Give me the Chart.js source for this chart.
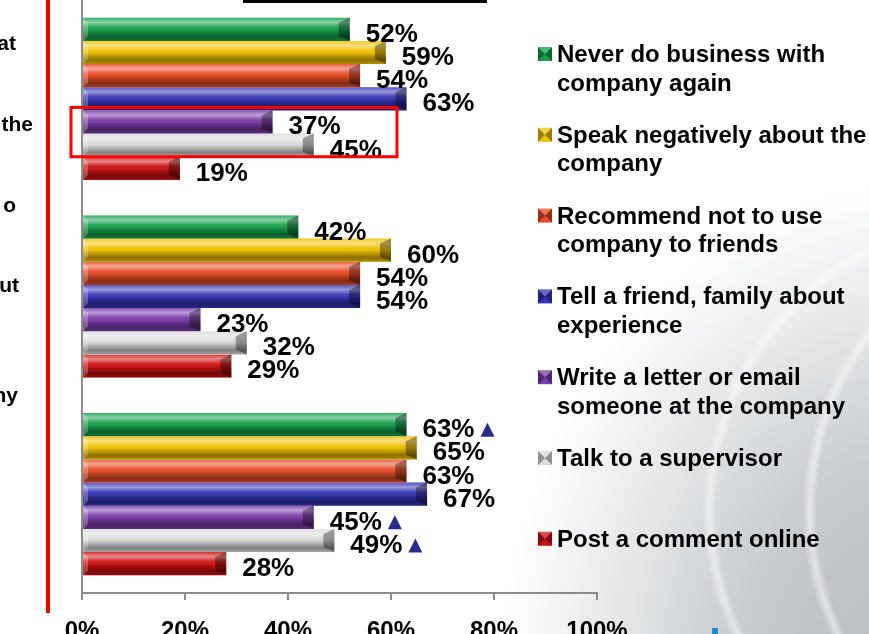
<!DOCTYPE html>
<html>
<head>
<meta charset="utf-8">
<script src="https://cdn.jsdelivr.net/npm/chart.js@4.4.1/dist/chart.umd.min.js"></script>
<style>
  html, body { margin: 0; padding: 0; }
  body {
    width: 869px; height: 634px; overflow: hidden; position: relative;
    background:
      radial-gradient(circle at 1000px 510px, rgba(255,255,255,0) 283px, rgba(255,255,255,0.5) 290px, rgba(255,255,255,0) 298px),
      radial-gradient(circle at 1100px 510px, rgba(255,255,255,0) 283px, rgba(255,255,255,0.5) 290px, rgba(255,255,255,0) 298px),
      radial-gradient(ellipse 420px 500px at 920px 680px, #b4b8bd 0%, #c9cdd0 45%, rgba(255,255,255,0) 100%),
      #ffffff;
  }
  canvas { position: absolute; left: 0; top: 0; }
  .titlebar { position: absolute; left: 243px; top: 0; width: 244px; height: 3px; background: #000; }
  .logo { position: absolute; left: 712px; top: 628px; width: 6px; height: 6px; background: #1a8ad4; }
</style>
</head>
<body>
<div class="titlebar"></div>
<div class="logo"></div>
<canvas id="chart" width="869" height="634"></canvas>
<script>
// datos: tres grupos, siete reacciones
var groups = ['Grupo 1', 'Grupo 2', 'Grupo 3'];
var seriesNames = [
  ['Never do business with', 'company again'],
  ['Speak negatively about the', 'company'],
  ['Recommend not to use', 'company to friends'],
  ['Tell a friend, family about', 'experience'],
  ['Write a letter or email', 'someone at the company'],
  ['Talk to a supervisor'],
  ['Post a comment online']
];
var neverAgain     = [52, 42, 63];
var speakNegative  = [59, 60, 65];
var recommendNot   = [54, 54, 63];
var tellFriend     = [63, 54, 67];
var writeLetter    = [37, 23, 45];
var talkSupervisor = [45, 32, 49];
var postOnline     = [19, 29, 28];
var seriesValues = [neverAgain, speakNegative, recommendNot, tellFriend, writeLetter, talkSupervisor, postOnline];
// [serie, grupo] con triángulo azul al lado
var flagged = [[0, 2], [4, 2], [5, 2]];
var xTicks = [0, 20, 40, 60, 80, 100];
var sideText = ['at', 'the', 'o', 'ut', 'ny'];
var colors = ['#15a04b', '#f0c000', '#e64a24', '#3434b4', '#7a3ba8', '#dadada', '#cc1111'];

var FONT = 'Arial, "Liberation Sans", sans-serif';

function shadeBar(ctx, l, r, top, bot) {
  var g = ctx.createLinearGradient(0, top, 0, bot);
  g.addColorStop(0, 'rgba(255,255,255,0.15)');
  g.addColorStop(0.2, 'rgba(255,255,255,0.5)');
  g.addColorStop(0.42, 'rgba(255,255,255,0.05)');
  g.addColorStop(0.6, 'rgba(0,0,0,0.15)');
  g.addColorStop(0.82, 'rgba(0,0,0,0.42)');
  g.addColorStop(1, 'rgba(0,0,0,0.25)');
  ctx.fillStyle = g;
  ctx.fillRect(l, top, r - l, bot - top);
  var b = Math.min(11, (r - l) / 3);
  ctx.fillStyle = 'rgba(0,0,0,0.35)';
  ctx.beginPath();
  ctx.moveTo(r - b, top + 5); ctx.lineTo(r, top); ctx.lineTo(r, bot); ctx.lineTo(r - b, bot - 5);
  ctx.closePath(); ctx.fill();
  ctx.fillStyle = 'rgba(255,255,255,0.25)';
  ctx.beginPath();
  ctx.moveTo(l, top); ctx.lineTo(l + 5, top + 5); ctx.lineTo(l + 5, bot - 5); ctx.lineTo(l, bot);
  ctx.closePath(); ctx.fill();
}

var decor = {
  id: 'decor',
  beforeDraw: function (chart) {
    var ctx = chart.ctx;
    ctx.save();
    // línea roja vertical a la izquierda
    ctx.strokeStyle = '#ff0000';
    ctx.lineWidth = 4;
    ctx.beginPath(); ctx.moveTo(48, 0); ctx.lineTo(48, 613); ctx.stroke();
    // texto cortado de la columna izquierda
    var ends = [16, 33, 16, 19, 18];
    var base = [50, 131, 212, 292, 402];
    ctx.fillStyle = '#000';
    ctx.font = 'bold 21px ' + FONT;
    ctx.textAlign = 'right';
    ctx.textBaseline = 'alphabetic';
    sideText.forEach(function (t, i) { ctx.fillText(t, ends[i], base[i]); });
    ctx.restore();
  },
  afterDatasetsDraw: function (chart) {
    var ctx = chart.ctx;
    ctx.save();
    chart.data.datasets.forEach(function (ds, d) {
      chart.getDatasetMeta(d).data.forEach(function (bar) {
        var p = bar.getProps(['x', 'y', 'base', 'height'], true);
        shadeBar(ctx, p.base, p.x, p.y - p.height / 2, p.y + p.height / 2);
      });
    });
    // etiquetas de valor
    ctx.font = 'bold 26px ' + FONT;
    ctx.fillStyle = '#000';
    ctx.textAlign = 'left';
    ctx.textBaseline = 'alphabetic';
    chart.data.datasets.forEach(function (ds, d) {
      chart.getDatasetMeta(d).data.forEach(function (bar, i) {
        var p = bar.getProps(['x', 'y'], true);
        ctx.fillText(ds.data[i] + '%', p.x + 16, p.y + 12.5);
      });
    });
    // triángulos de diferencia significativa
    ctx.fillStyle = '#2a2a8c';
    flagged.forEach(function (f) {
      var bar = chart.getDatasetMeta(f[0]).data[f[1]];
      var p = bar.getProps(['x', 'y'], true);
      var w = ctx.measureText(chart.data.datasets[f[0]].data[f[1]] + '%').width;
      var x0 = p.x + 16 + w + 6, yb = p.y + 12;
      ctx.beginPath();
      ctx.moveTo(x0, yb); ctx.lineTo(x0 + 14, yb); ctx.lineTo(x0 + 7, yb - 14);
      ctx.closePath(); ctx.fill();
    });
    // recuadro rojo en el primer grupo
    var top = chart.getDatasetMeta(4).data[0].getProps(['y', 'height'], true);
    var bot = chart.getDatasetMeta(5).data[0].getProps(['y', 'height'], true);
    ctx.strokeStyle = '#ff0000';
    ctx.lineWidth = 3;
    var y1 = top.y - top.height / 2 - 3, y2 = bot.y + bot.height / 2;
    ctx.strokeRect(chart.chartArea.left - 11, y1, 326, y2 - y1);
    ctx.restore();
  },
  afterDraw: function (chart) {
    var ctx = chart.ctx;
    ctx.save();
    ctx.font = 'bold 24px ' + FONT;
    ctx.fillStyle = '#000';
    ctx.textAlign = 'left';
    ctx.textBaseline = 'alphabetic';
    seriesNames.forEach(function (lines, i) {
      var base = 62 + i * 80.8;
      var sx = 538, sy = base - 15;
      ctx.fillStyle = colors[i];
      ctx.fillRect(sx, sy, 14, 14);
      ctx.fillStyle = 'rgba(0,0,0,0.35)';
      ctx.beginPath(); ctx.moveTo(sx, sy); ctx.lineTo(sx + 7, sy + 7); ctx.lineTo(sx, sy + 14); ctx.closePath(); ctx.fill();
      ctx.beginPath(); ctx.moveTo(sx + 14, sy); ctx.lineTo(sx + 7, sy + 7); ctx.lineTo(sx + 14, sy + 14); ctx.closePath(); ctx.fill();
      ctx.fillStyle = 'rgba(255,255,255,0.25)';
      ctx.beginPath(); ctx.moveTo(sx, sy); ctx.lineTo(sx + 14, sy); ctx.lineTo(sx + 7, sy + 7); ctx.closePath(); ctx.fill();
      ctx.fillStyle = '#000';
      lines.forEach(function (t, k) { ctx.fillText(t, 557, base + k * 28.5); });
    });
    ctx.restore();
  }
};

new Chart(document.getElementById('chart').getContext('2d'), {
  type: 'bar',
  data: {
    labels: groups,
    datasets: seriesValues.map(function (vals, i) {
      return {
        label: seriesNames[i].join(' '),
        data: vals,
        backgroundColor: colors[i],
        borderWidth: 0,
        categoryPercentage: 0.82,
        barPercentage: 1
      };
    })
  },
  options: {
    indexAxis: 'y',
    responsive: false,
    animation: false,
    layout: { padding: { left: 0, right: 272, top: 0, bottom: 0 } },
    plugins: { legend: { display: false }, tooltip: { enabled: false } },
    scales: {
      x: {
        min: 0, max: 100,
        afterBuildTicks: function (s) { s.ticks = xTicks.map(function (v) { return { value: v }; }); },
        afterFit: function (s) { s.height = 41; },
        ticks: { color: '#000', font: { family: FONT, size: 24, weight: 'bold' }, padding: 17,
          callback: function (v) { return v + '%'; } },
        grid: { drawOnChartArea: false, tickLength: 7, color: '#8c8c8c', lineWidth: 2 },
        border: { color: '#8c8c8c', width: 2 }
      },
      y: {
        afterFit: function (s) { s.width = 82; },
        ticks: { display: false },
        grid: { display: false },
        border: { display: true, color: '#8c8c8c', width: 2 }
      }
    }
  },
  plugins: [decor]
});
</script>
</body>
</html>
